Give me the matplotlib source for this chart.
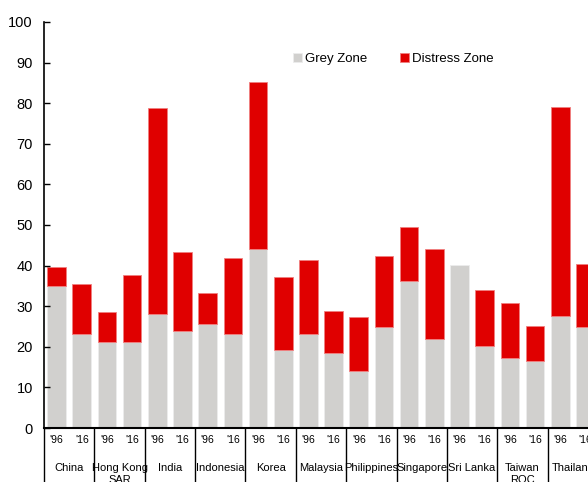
import numpy as np
import matplotlib.pyplot as plt
import matplotlib.transforms as mtransforms

plt.rcParams['font.family'] = ['Liberation Sans', 'DejaVu Sans']

# data to plot
countries = ['China', 'Hong Kong\nSAR', 'India', 'Indonesia', 'Korea', 'Malaysia',
             'Philippines', 'Singapore', 'Sri Lanka', 'Taiwan\nROC', 'Thailand']
years = ["'96", "'16"]

# bar totals (grey + distress) and grey part, order: '96, '16 per country
grey = [35.0, 23.1, 21.3, 21.3, 28.2, 23.9, 25.6, 23.1, 44.1, 19.1, 23.1,
        18.4, 14.0, 24.9, 36.1, 22.0, 40.1, 20.2, 17.3, 16.6, 27.5, 24.9]
total = [39.7, 35.4, 28.5, 37.6, 78.8, 43.3, 33.2, 41.9, 85.2, 37.1, 41.5,
         28.9, 27.4, 42.3, 49.5, 44.0, 40.1, 33.9, 30.7, 25.2, 79.1, 40.4]

grey = np.array(grey)
distress = np.array(total) - grey

grey_col = '#d1d0ce'
red_col = '#e00000'

fig = plt.figure(figsize=(5.88, 4.82), dpi=100)
ax = fig.add_axes([44 / 588, 54 / 482, 554 / 588, 406 / 482])

index = np.arange(len(grey))
bar_width = 0.74

ax.bar(index, grey, bar_width, color=grey_col, edgecolor='#ececec',
       linewidth=0.6, label='Grey Zone')
red_edges = ['#f08080' if d > 0 else 'none' for d in distress]
ax.bar(index, distress, bar_width, bottom=grey, color=red_col,
       edgecolor=red_edges, linewidth=0.6, label='Distress Zone')

ax.set_xlim(-0.5, len(grey) - 0.5)
ax.set_ylim(0, 100)
ax.set_yticks(np.arange(0, 101, 10))
ax.tick_params(axis='y', direction='in', length=4, width=1, labelsize=10.5, pad=8)
ax.set_xticks([])

for s in ['top', 'right']:
    ax.spines[s].set_visible(False)
ax.spines['left'].set_linewidth(1.2)
ax.spines['bottom'].set_linewidth(1.5)

# category axis below the bars
trans = mtransforms.blended_transform_factory(ax.transData, ax.transAxes)
for i in index:
    ax.text(i, -0.03, years[i % 2], transform=trans, ha='center', va='center',
            fontsize=7.5)
for g, name in enumerate(countries):
    ax.text(2 * g + 0.5, -0.085, name, transform=trans, ha='center', va='top',
            fontsize=8, linespacing=1.25, clip_on=False)
    ax.plot([2 * g - 0.5, 2 * g - 0.5], [0, -0.25], transform=trans,
            color='black', linewidth=1, clip_on=False)
ax.plot([len(grey) - 0.5] * 2, [0, -0.25], transform=trans,
        color='black', linewidth=1, clip_on=False)

ax.legend(loc='center', bbox_to_anchor=(0.63, 0.909), ncol=2, frameon=False,
          fontsize=9.5, handlelength=0.7, handleheight=0.7, handletextpad=0.2,
          columnspacing=2.5)

fig.savefig('out.png', dpi=100)
